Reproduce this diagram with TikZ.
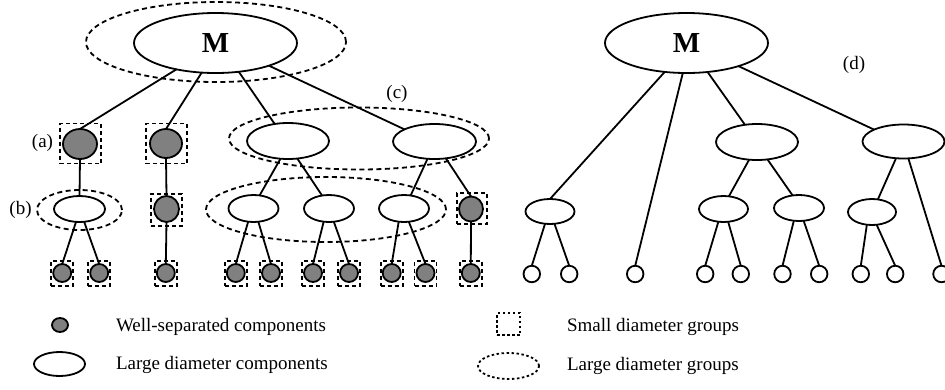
\documentclass[tikz,border=0pt]{standalone}
\usepackage{fontspec}
\setmainfont{Liberation Serif}
\usetikzlibrary{shapes.geometric}
\begin{document}
\begin{tikzpicture}[x=1pt,y=-1pt,
  every node/.style={inner sep=0pt, outer sep=0pt},
  lw/.style={line width=1.8pt},
  comp/.style={ellipse, draw, lw, fill=white},
  wsc/.style={ellipse, draw, lw, fill=gray},
  sgrp/.style={rectangle, draw, lw, dash pattern=on 4pt off 3pt},
  lgrp/.style={ellipse, draw, lw, dash pattern=on 5pt off 3.5pt},
  keydot/.style={lw, dash pattern=on 2.5pt off 2.5pt},
  leafw/.style={circle, draw, lw, fill=white, minimum size=16.5pt},
  leafg/.style={circle, draw, lw, fill=gray, minimum size=18pt},
  leafbox/.style={sgrp, minimum width=22pt, minimum height=25pt},
  conn/.style={lw},
  lbl/.style={font=\fontsize{19}{22}\selectfont},
  bigM/.style={font=\fontsize{29}{30}\selectfont\bfseries},
]
\useasboundingbox (0,0) rectangle (945,389);

% ---------------- left tree ----------------
\node[lgrp, minimum width=260pt, minimum height=80pt] (gM) at (216,42) {};
\node[comp, bigM, minimum width=163pt, minimum height=60pt] (M) at (215.5,43) {M};

\node[sgrp, minimum width=41pt, minimum height=40pt] (sa) at (80.5,143.5) {};
\node[wsc, minimum width=34pt, minimum height=30pt] (a) at (80,144) {};
\node[sgrp, minimum width=41pt, minimum height=40pt] (s2) at (166.5,143.5) {};
\node[wsc, minimum width=32pt, minimum height=29pt] (g2) at (166,143.5) {};

\node[lgrp, minimum width=260pt, minimum height=62pt] (gc) at (359,138.5) {};
\node[comp, minimum width=82pt, minimum height=36pt] (c1) at (288,141) {};
\node[comp, minimum width=83pt, minimum height=35pt] (c2) at (434.5,141.5) {};

\node[lgrp, minimum width=85pt, minimum height=40pt] (gb) at (79.5,210) {};
\node[comp, minimum width=51pt, minimum height=26pt] (b) at (79.5,209) {};
\node[sgrp, minimum width=31pt, minimum height=32pt] (s2b) at (166.5,210) {};
\node[wsc, minimum width=25pt, minimum height=26pt] (g2b) at (166.5,209) {};

\node[lgrp, minimum width=240pt, minimum height=65pt] (gm) at (326,209.5) {};
\node[comp, minimum width=50pt, minimum height=27pt] (m1) at (253.5,208.5) {};
\node[comp, minimum width=50pt, minimum height=27pt] (m2) at (329,208.5) {};
\node[comp, minimum width=50pt, minimum height=27pt] (m3) at (404,208.5) {};
\node[sgrp, minimum width=30pt, minimum height=31pt] (s3) at (472,208.5) {};
\node[wsc, minimum width=24pt, minimum height=25pt] (g3) at (471,209) {};

\foreach \i/\x in {1/62.2,2/99.2,3/165.8,4/235.8,5/271,6/313,7/349,8/391.7,9/425.5,10/470.8}{
  \node[leafbox] (sl\i) at (\x,273.5) {};
  \node[leafg] (l\i) at (\x,273) {};
}

\draw[conn] (M.214) -- (a.north);
\draw[conn] (M.245) -- (g2.north);
\draw[conn] (M.309) -- (c1.128);
\draw[conn] (M.337) -- (c2.158);
\draw[conn] (a.south) -- (b.north);
\draw[conn] (g2.south) -- (g2b.north);
\draw[conn] (c1.247) -- (m1.65);
\draw[conn] (c1.298) -- (m2.118);
\draw[conn] (c2.248) -- (m3.63);
\draw[conn] (c2.304) -- (g3.north);
\draw[conn] (b.255) -- (l1.north);
\draw[conn] (b.290) -- (l2.north);
\draw[conn] (g2b.south) -- (l3.north);
\draw[conn] (m1.248) -- (l4.north);
\draw[conn] (m1.290) -- (l5.north);
\draw[conn] (m2.248) -- (l6.north);
\draw[conn] (m2.290) -- (l7.north);
\draw[conn] (m3.248) -- (l8.north);
\draw[conn] (m3.290) -- (l9.north);
\draw[conn] (g3.south) -- (l10.north);

\node[lbl] (la) at (42.5,142.5) {(a)};
\node[lbl] (lb) at (20.5,210) {(b)};
\node[lbl] (lc) at (397,94) {(c)};

% ---------------- right tree ----------------
\node[comp, bigM, minimum width=163pt, minimum height=60pt] (N) at (686.5,43) {M};
\node[comp, minimum width=82pt, minimum height=36pt] (p1) at (757,142) {};
\node[comp, minimum width=82pt, minimum height=34pt] (p2) at (903.5,141.5) {};
\node[comp, minimum width=49pt, minimum height=25pt] (q1) at (550,211.5) {};
\node[comp, minimum width=49pt, minimum height=26pt] (q2) at (723.5,209) {};
\node[comp, minimum width=50pt, minimum height=26pt] (q3) at (799,208) {};
\node[comp, minimum width=48pt, minimum height=26pt] (q4) at (872,212) {};

\foreach \i/\x in {1/531.8,2/569.2,3/635.2,4/705.2,5/740.8,6/782.5,7/819.2,8/860.8,9/895.2,10/941.5}{
  \node[leafw] (w\i) at (\x,274) {};
}

\draw[conn] (N.233) -- (q1.north);
\draw[conn] (N.263) -- (w3.north);
\draw[conn] (N.306) -- (p1.125);
\draw[conn] (N.336) -- (p2.158);
\draw[conn] (p1.246) -- (q2.67);
\draw[conn] (p1.301) -- (q3.117);
\draw[conn] (p2.246) -- (q4.65);
\draw[conn] (p2.286) -- (w10.north);
\draw[conn] (q1.248) -- (w1.north);
\draw[conn] (q1.290) -- (w2.north);
\draw[conn] (q2.248) -- (w4.north);
\draw[conn] (q2.290) -- (w5.north);
\draw[conn] (q3.248) -- (w6.north);
\draw[conn] (q3.290) -- (w7.north);
\draw[conn] (q4.248) -- (w8.north);
\draw[conn] (q4.290) -- (w9.north);

\node[lbl] (ld) at (854,65) {(d)};

% ---------------- legend ----------------
\node[wsc, minimum width=16pt, minimum height=14pt] (kw) at (60,325) {};
\node[lbl, anchor=base west] (kwt) at (116,331.5) {Well-separated components};
\node[comp, minimum width=51pt, minimum height=24pt] (kc) at (59.5,364) {};
\node[lbl, anchor=base west] (kct) at (116,369) {Large diameter components};
\node[draw, keydot, minimum width=23pt, minimum height=22pt] (ks) at (508.5,324) {};
\node[lbl, anchor=base west] (kst) at (567,331) {Small diameter groups};
\node[ellipse, draw, keydot, minimum width=61pt, minimum height=26pt] (ke) at (508.5,366) {};
\node[lbl, anchor=base west] (ket) at (567,370) {Large diameter groups};
\end{tikzpicture}
\end{document}
